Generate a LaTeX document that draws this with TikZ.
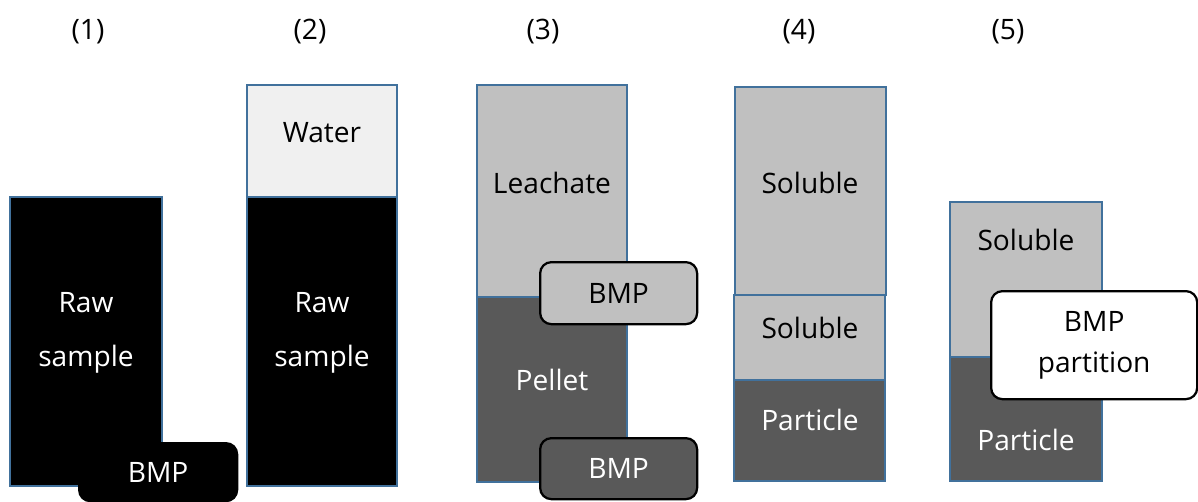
\documentclass[tikz,border=0pt]{standalone}
\usepackage{fontspec}
\setmainfont{Open Sans}
\definecolor{edgeblue}{HTML}{41719C}
\definecolor{waterfill}{HTML}{F0F0F0}
\definecolor{lightfill}{HTML}{C0C0C0}
\definecolor{darkfill}{HTML}{595959}
\tikzset{
  layer/.style={draw=edgeblue, line width=1.4pt},
  txt/.style={font=\fontsize{20}{38}\selectfont, align=center, inner sep=0pt},
  bmpbox/.style={draw=black, line width=1.6pt, rounded corners=8pt,
    anchor=north west, font=\fontsize{20}{29}\selectfont, align=center}
}

\begin{document}
\begin{tikzpicture}[x=0.025cm, y=-0.025cm]
  \useasboundingbox (0,0) rectangle (1198,501);
  % step labels
  \node[txt] (n1) at (88,32) {(1)};
  \node[txt] (n2) at (310,32) {(2)};
  \node[txt] (n3) at (543,32) {(3)};
  \node[txt] (n4) at (799,32) {(4)};
  \node[txt] (n5) at (1008,32) {(5)};

  % (1) raw sample
  \draw[layer, fill=black] (10,197) rectangle (162,486);
  \node[txt, text=white] (raw1) at (86,333) {Raw\\sample};
  \node[bmpbox, fill=black, text=white, minimum width=3.95cm,
    minimum height=1.45cm] (bmp1) at (78,442) {BMP};

  % (2) raw sample + water
  \draw[layer, fill=waterfill] (247,85) rectangle (397,197);
  \draw[layer, fill=black] (247,197) rectangle (397,486);
  \node[txt] (water) at (322,133) {Water};
  \node[txt, text=white] (raw2) at (322,333) {Raw\\sample};

  % (3) leachate / pellet
  \draw[layer, fill=lightfill] (477,85) rectangle (627,297);
  \draw[layer, fill=darkfill] (477,297) rectangle (627,482);
  \node[txt] (leach) at (552,183) {Leachate};
  \node[txt, text=white] (pellet) at (552,380) {Pellet};
  \node[bmpbox, fill=lightfill, minimum width=3.925cm,
    minimum height=1.55cm] (bmpleach) at (539,261) {BMP};
  \node[bmpbox, fill=darkfill, text=white, minimum width=3.925cm,
    minimum height=1.525cm] (bmppellet) at (539,437) {BMP};

  % (4) soluble / soluble / particle
  \draw[layer, fill=lightfill] (735,87) rectangle (886,295);
  \draw[layer, fill=lightfill] (734,295) rectangle (885,380);
  \draw[layer, fill=darkfill] (734,380) rectangle (885,481);
  \node[txt] (sol4a) at (810,183) {Soluble};
  \node[txt] (sol4b) at (810,328) {Soluble};
  \node[txt, text=white] (part4) at (810,420) {Particle};

  % (5) partition
  \draw[layer, fill=lightfill] (950,202) rectangle (1102,357);
  \draw[layer, fill=darkfill] (950,357) rectangle (1102,481);
  \node[txt] (sol5) at (1026,240) {Soluble};
  \node[txt, text=white] (part5) at (1026,440) {Particle};
  \node[bmpbox, fill=white, minimum width=5.15cm,
    minimum height=2.7cm] (bmppart) at (990,290) {BMP\\partition};
\end{tikzpicture}
\end{document}
